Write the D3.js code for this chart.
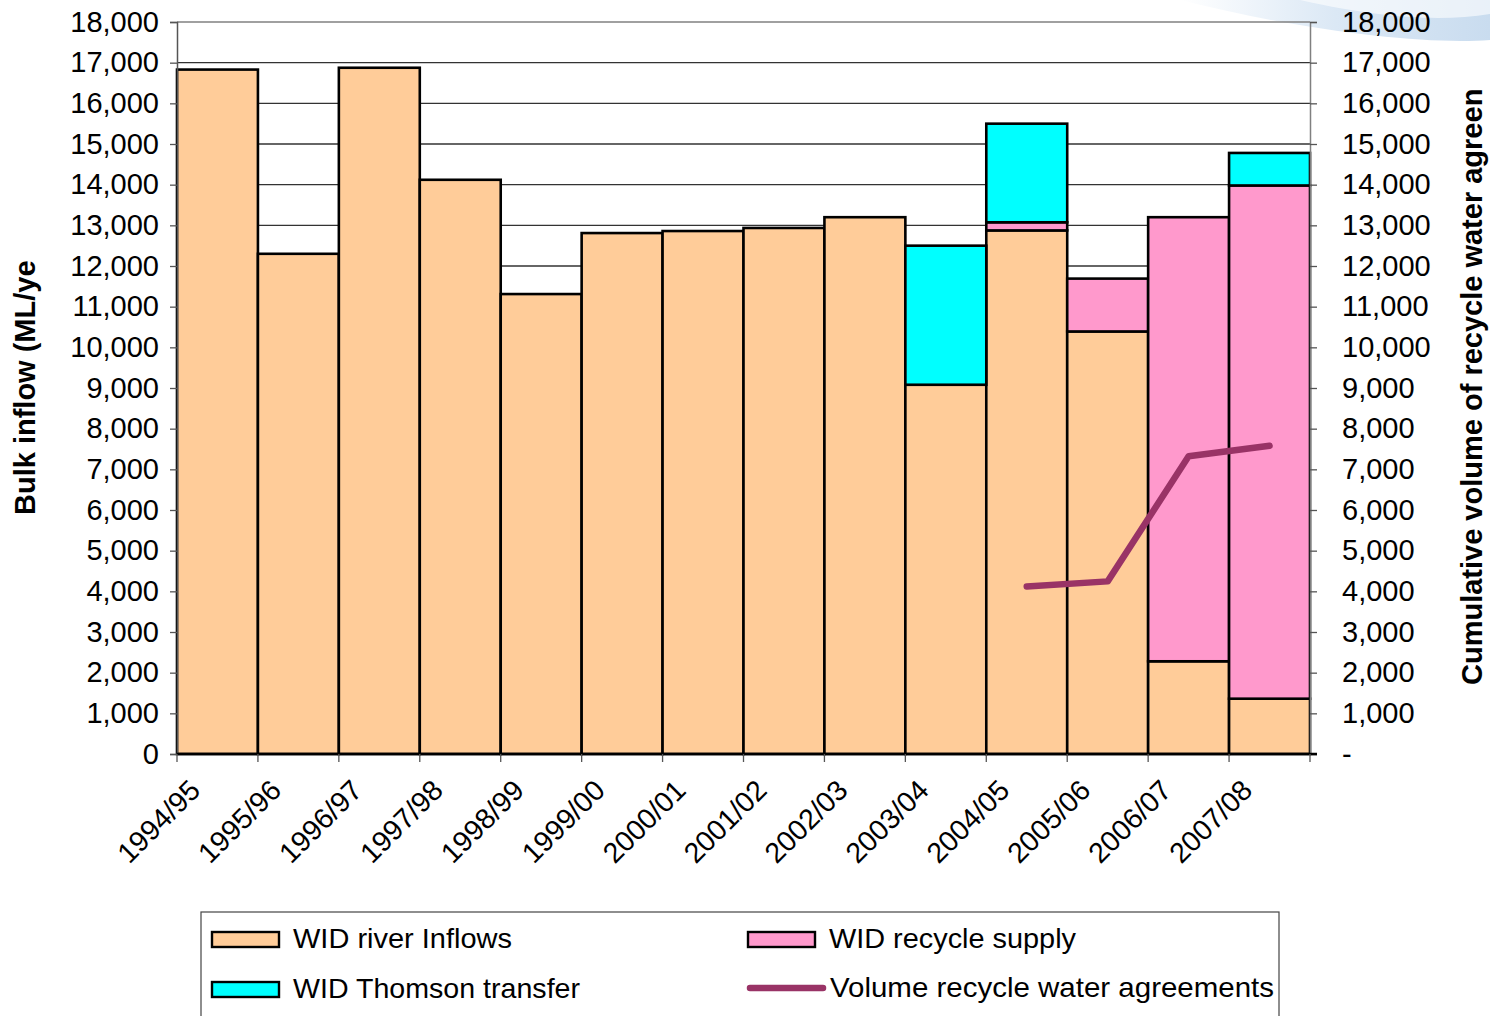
<!DOCTYPE html>
<html>
<head>
<meta charset="utf-8">
<script src="https://cdn.jsdelivr.net/npm/d3@7/dist/d3.min.js"></script>
<style>
  body { margin: 0; background: #fff; }
  text { font-family: "Liberation Sans", Arial, sans-serif; fill: #000; }
</style>
</head>
<body>
<div id="chart"></div>
<script>
var years = ["1994/95", "1995/96", "1996/97", "1997/98", "1998/99", "1999/00", "2000/01",
  "2001/02", "2002/03", "2003/04", "2004/05", "2005/06", "2006/07", "2007/08"];
var riverInflows = [16830, 12300, 16875, 14120, 11310, 12810, 12860, 12935, 13200, 9080, 12875, 10390, 2280, 1360];
var recycleSupply = [0, 0, 0, 0, 0, 0, 0, 0, 0, 0, 200, 1300, 10920, 12620];
var thomsonTransfer = [0, 0, 0, 0, 0, 0, 0, 0, 0, 3420, 2425, 0, 0, 800];
var agreementYears = ["2004/05", "2005/06", "2006/07", "2007/08"];
var agreementVolume = [4120, 4245, 7320, 7580];
var yTicks = d3.range(0, 18001, 1000);

var svgWidth = 1490;
var svgHeight = 1016;
var margin = { top: 22, right: 180, bottom: 262, left: 177 };
var width = svgWidth - margin.left - margin.right;
var height = svgHeight - margin.top - margin.bottom;

var colors = { river: "#FFCC99", recycle: "#FF99CC", thomson: "#00FFFF", line: "#993366" };

var svg = d3.select("#chart").append("svg")
  .attr("width", svgWidth)
  .attr("height", svgHeight);

// faint blue swoosh in the corner
var defs = svg.append("defs");
var grad = defs.append("linearGradient").attr("id", "sky")
  .attr("x1", "0").attr("y1", "0").attr("x2", "1").attr("y2", "0");
grad.append("stop").attr("offset", "0").attr("stop-color", "#ffffff");
grad.append("stop").attr("offset", "0.5").attr("stop-color", "#dbe8f5");
grad.append("stop").attr("offset", "1").attr("stop-color", "#c9dcef");
svg.append("path")
  .attr("d", "M1180,0 C1300,30 1420,45 1490,40 L1490,0 Z")
  .attr("fill", "url(#sky)");
svg.append("path")
  .attr("d", "M1300,0 C1380,18 1440,22 1490,14 L1490,0 Z")
  .attr("fill", "#ffffff").attr("opacity", 0.6);

var chartGroup = svg.append("g")
  .attr("transform", `translate(${margin.left}, ${margin.top})`);

var xScale = d3.scaleBand().domain(years).range([0, width]).padding(0);
var yScale = d3.scaleLinear().domain([0, 18000]).range([height, 0]);

// gridlines
chartGroup.append("g")
  .selectAll("line")
  .data(yTicks.filter(d => d > 0 && d < 18000))
  .enter()
  .append("line")
  .attr("x1", 0).attr("x2", width)
  .attr("y1", d => yScale(d)).attr("y2", d => yScale(d))
  .attr("stroke", "#333").attr("stroke-width", 1.3);

chartGroup.append("line")
  .attr("x1", 0).attr("x2", width)
  .attr("y1", yScale(18000)).attr("y2", yScale(18000))
  .attr("stroke", "#808080").attr("stroke-width", 1.5);

// stacked bars
var stackData = years.map(function(y, i) {
  return { year: y, river: riverInflows[i], recycle: recycleSupply[i], thomson: thomsonTransfer[i] };
});
var stack = d3.stack().keys(["river", "recycle", "thomson"]);
var series = stack(stackData);

chartGroup.selectAll("g.series")
  .data(series)
  .enter()
  .append("g")
  .attr("class", "series")
  .attr("fill", d => colors[d.key])
  .selectAll("rect")
  .data(d => d.filter(s => s[1] - s[0] > 0))
  .enter()
  .append("rect")
  .attr("x", d => xScale(d.data.year))
  .attr("y", d => yScale(d[1]))
  .attr("width", xScale.bandwidth())
  .attr("height", d => yScale(d[0]) - yScale(d[1]))
  .attr("stroke", "#000")
  .attr("stroke-width", 2.6);

// axes
var yAxis = d3.axisLeft(yScale).tickValues(yTicks).tickFormat(d3.format(",")).tickSize(7).tickPadding(11);
var yAxisRight = d3.axisRight(yScale).tickValues(yTicks)
  .tickFormat(d => d === 0 ? "-" : d3.format(",")(d)).tickSize(7).tickPadding(25);

var left = chartGroup.append("g").call(yAxis);
var right = chartGroup.append("g").attr("transform", `translate(${width}, 0)`).call(yAxisRight);
[left, right].forEach(function(g) {
  g.select(".domain").attr("stroke", "#555").attr("stroke-width", 1.5);
  g.selectAll(".tick line").attr("stroke", "#555").attr("stroke-width", 1.3);
  g.selectAll("text").style("font-size", "29px").attr("fill", "#000");
});
right.select(".domain").attr("stroke", "#808080");

// category axis: ticks at bar edges, rotated labels
var xAxisG = chartGroup.append("g").attr("transform", `translate(0, ${height})`);
xAxisG.append("line")
  .attr("x1", 0).attr("x2", width + 7)
  .attr("stroke", "#000").attr("stroke-width", 2.6);
xAxisG.selectAll("line.tick")
  .data(years.concat(["end"]))
  .enter()
  .append("line")
  .attr("class", "tick")
  .attr("x1", d => d === "end" ? width : xScale(d))
  .attr("x2", d => d === "end" ? width : xScale(d))
  .attr("y1", 0).attr("y2", 8)
  .attr("stroke", "#555").attr("stroke-width", 1.3);
xAxisG.selectAll("text")
  .data(years)
  .enter()
  .append("text")
  .attr("transform", d => `translate(${xScale(d) + 25}, 38) rotate(-45)`)
  .attr("text-anchor", "end")
  .style("font-size", "28.5px")
  .text(d => d);

// cumulative agreements line
var line = d3.line()
  .x((d, i) => xScale(agreementYears[i]) + xScale.bandwidth() / 2)
  .y(d => yScale(d));
chartGroup.append("path")
  .datum(agreementVolume)
  .attr("d", line)
  .attr("fill", "none")
  .attr("stroke", colors.line)
  .attr("stroke-width", 6.5)
  .attr("stroke-linecap", "round")
  .attr("stroke-linejoin", "round");

// axis titles
svg.append("text")
  .attr("transform", "translate(35, 515) rotate(-90)")
  .style("font-size", "29px")
  .style("font-weight", "bold")
  .text("Bulk inflow (ML/ye");

svg.append("text")
  .attr("transform", "translate(1482, 685) rotate(-90)")
  .style("font-size", "29px")
  .style("font-weight", "bold")
  .text("Cumulative volume of recycle water agreen");

// legend
var legend = svg.append("g");
legend.append("rect")
  .attr("x", 201).attr("y", 912)
  .attr("width", 1078).attr("height", 130)
  .attr("fill", "#fff")
  .attr("stroke", "#444").attr("stroke-width", 1.2);

var legendItems = [
  { label: "WID river Inflows", color: colors.river, type: "rect", x: 212, y: 939, w: 219 },
  { label: "WID recycle supply", color: colors.recycle, type: "rect", x: 748, y: 939, w: 247 },
  { label: "WID Thomson transfer", color: colors.thomson, type: "rect", x: 212, y: 989, w: 287 },
  { label: "Volume recycle water agreements", color: colors.line, type: "line", x: 748, y: 988, w: 444 }
];

var items = legend.selectAll("g.item")
  .data(legendItems)
  .enter()
  .append("g")
  .attr("class", "item")
  .attr("transform", d => `translate(${d.x}, ${d.y})`);

items.filter(d => d.type === "rect")
  .append("rect")
  .attr("x", 0).attr("y", -7)
  .attr("width", 67).attr("height", 15)
  .attr("fill", d => d.color)
  .attr("stroke", "#000").attr("stroke-width", 2.4);

items.filter(d => d.type === "line")
  .append("line")
  .attr("x1", 2).attr("x2", 75)
  .attr("stroke", d => d.color)
  .attr("stroke-width", 6.5)
  .attr("stroke-linecap", "round");

items.append("text")
  .attr("x", d => d.type === "line" ? 82 : 81)
  .attr("y", 9)
  .attr("textLength", d => d.w)
  .attr("lengthAdjust", "spacingAndGlyphs")
  .style("font-size", "28px")
  .text(d => d.label);
</script>
</body>
</html>
